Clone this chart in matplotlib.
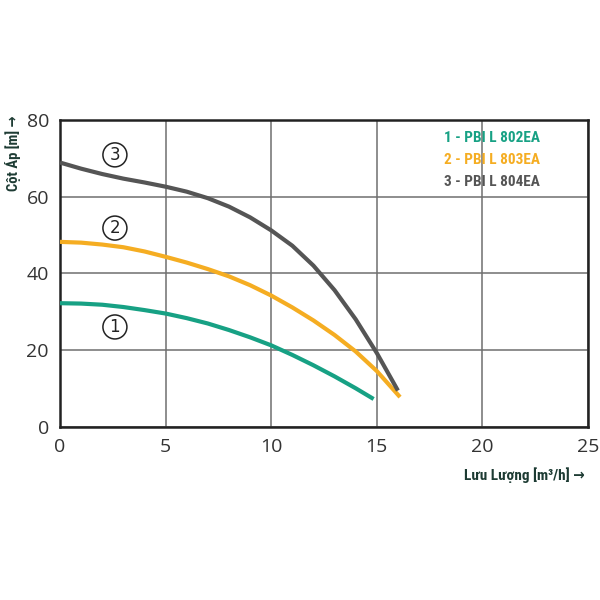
import matplotlib
matplotlib.use("Agg")
import matplotlib.pyplot as plt

# flow (m3/h) and head (m)
flow_1 = [0, 1, 2, 3, 4, 5, 6, 7, 8, 9, 10, 11, 12, 13, 14, 14.85]
head_1 = [32.2, 32.1, 31.8, 31.2, 30.4, 29.5, 28.3, 26.9, 25.2, 23.3, 21.2, 18.7, 16.0, 13.1, 10.0, 7.2]

flow_2 = [0, 1, 2, 3, 4, 5, 6, 7, 8, 9, 10, 11, 12, 13, 14, 15, 16.1]
head_2 = [48.2, 48.0, 47.5, 46.8, 45.7, 44.3, 42.8, 41.1, 39.2, 36.9, 34.2, 31.1, 27.7, 23.9, 19.6,
          14.5, 7.7]

flow_3 = [0, 1, 2, 3, 4, 5, 6, 7, 8, 9, 10, 11, 12, 13, 14, 15, 16]
head_3 = [68.9, 67.3, 65.9, 64.7, 63.7, 62.6, 61.3, 59.6, 57.4, 54.6, 51.2, 47.2, 42.0, 35.6, 28.0,
          19.2, 9.4]

names = ["1 - PBI L 802EA", "2 - PBI L 803EA", "3 - PBI L 804EA"]
colors = ["#17a184", "#f5ad22", "#555555"]
marks = ["1", "2", "3"]
mark_pos = [(2.6, 26), (2.6, 51.8), (2.6, 70.9)]

xticks = [0, 5, 10, 15, 20, 25]
yticks = [0, 20, 40, 60, 80]

narrow = ["Roboto Condensed", "Open Sans Condensed", "Liberation Sans Narrow", "DejaVu Sans"]
label_col = "#1d3b33"

fig = plt.figure(figsize=(6, 6), dpi=100)
ax = fig.add_axes([0.1, 0.289, 0.88, 0.511])

for fx, hy, c in zip([flow_1, flow_2, flow_3], [head_1, head_2, head_3], colors):
    ax.plot(fx, hy, color=c, lw=3, solid_capstyle="butt", solid_joinstyle="round", zorder=3)

for m, (px, py) in zip(marks, mark_pos):
    ax.text(px, py, m, ha="center", va="center", fontsize=12, color="#222222",
            family="DejaVu Sans",
            bbox=dict(boxstyle="circle,pad=0.18", fc="white", ec="#222222", lw=1.1))

for i, (n, c) in enumerate(zip(names, colors)):
    ax.text(18.2, 75.3 - i * 5.7, n, color=c, fontsize=11, family=narrow,
            fontstretch="condensed", fontweight="semibold", ha="left", va="center")

ax.set_xlim(0, 25)
ax.set_ylim(0, 80)
ax.set_xticks(xticks)
ax.set_yticks(yticks)
ax.grid(True, color="#6f6f6f", lw=1.1)
ax.set_axisbelow(True)
ax.tick_params(length=0, labelsize=14, pad=8, colors="#333333")
for lab in ax.get_xticklabels() + ax.get_yticklabels():
    lab.set_family("Open Sans")
for s in ax.spines.values():
    s.set_color("#222222")
    s.set_linewidth(1.8)

fig.text(0.022, 0.808, "Cột Áp [m] →", rotation=90, ha="center", va="top",
         fontsize=10.5, family=narrow, fontstretch="condensed", color=label_col,
         fontweight="bold")
fig.text(0.975, 0.208, "Lưu Lượng [m³/h] →", ha="right", va="center",
         fontsize=11, family=narrow, fontstretch="condensed", color=label_col,
         fontweight="bold")

fig.savefig("out.png", dpi=100, facecolor="white")
